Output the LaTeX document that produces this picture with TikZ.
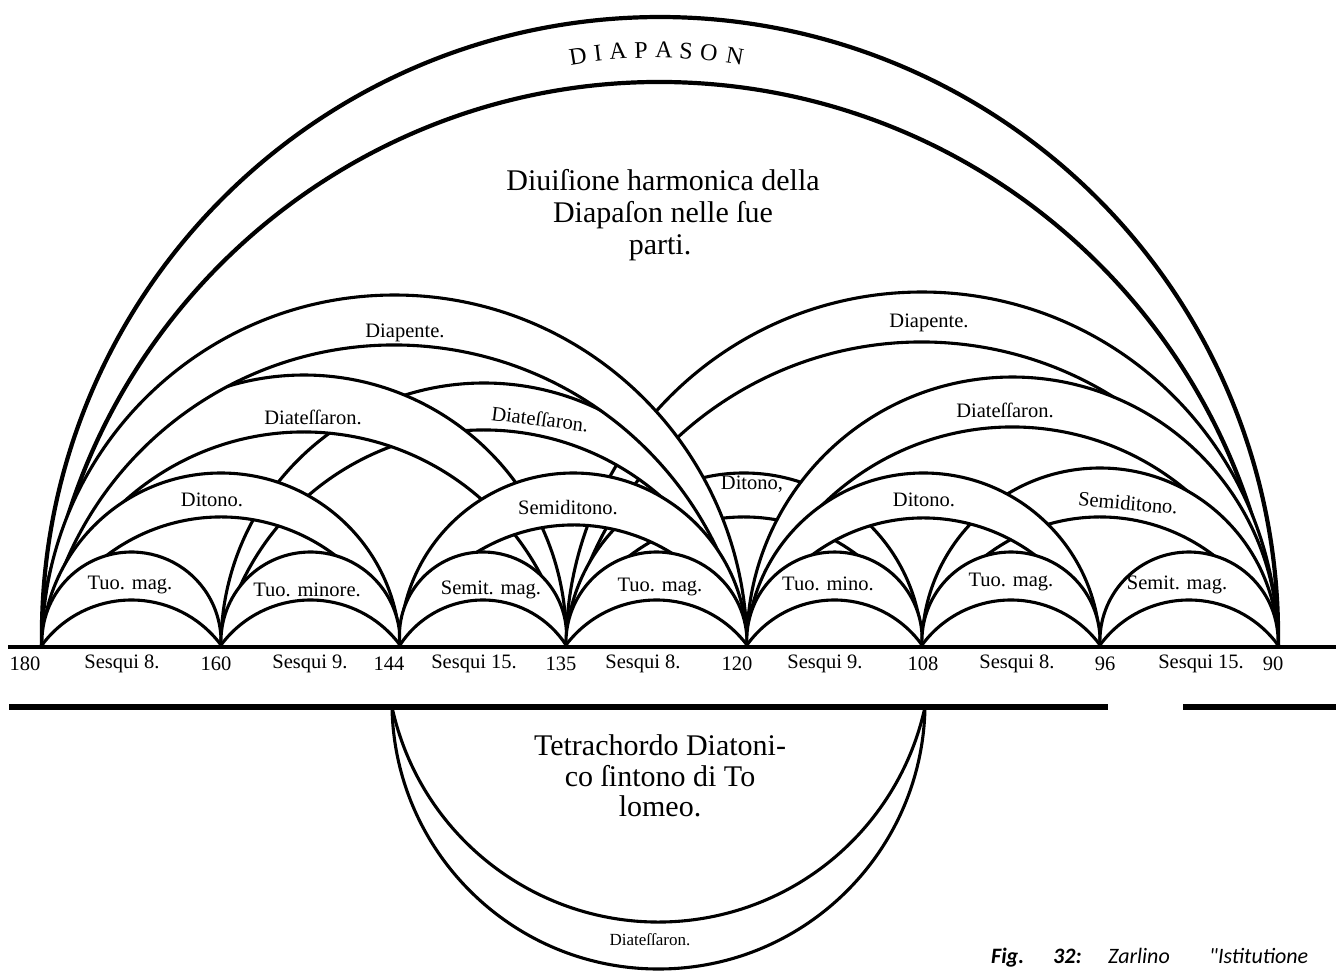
\documentclass[tikz,border=0pt]{standalone}
\usepackage{fontspec}
\setmainfont{Liberation Serif}
\newfontfamily\oldserif{Liberation Serif}
\newfontfamily\capfont{Carlito}
% circular arc from (x1,0) to (x2,0) with height h (all in px)
\newcommand\calcarc[3]{%
  \pgfmathsetmacro\am{(#2-#1)/200}%
  \pgfmathsetmacro\hh{(#3)/100}%
  \pgfmathsetmacro\rr{(\am*\am+\hh*\hh)/(2*\hh)}%
  \pgfmathsetmacro\cy{\hh-\rr}%
  \pgfmathsetmacro\sa{atan2(-\cy,-\am)}%
  \pgfmathsetmacro\sa{\sa<0 ? \sa+360 : \sa}%
  \pgfmathsetmacro\ea{180-\sa}%
  \pgfmathsetmacro\R{\rr*100}%
}
% band between two arcs over the same chord, white inside the band
\newcommand\band[5]{%
  \calcarc{#1}{#2}{#3}\let\Sa\sa\let\Ea\ea\let\Ra\R
  \calcarc{#1}{#2}{#4}\let\Sb\sa\let\Eb\ea\let\Rb\R
  \fill[white] (#1,0) arc[start angle=\Sa,end angle=\Ea,radius=\Ra pt]
      arc[start angle=\Eb,end angle=\Sb,radius=\Rb pt] -- cycle;
  \draw[#5] (#1,0) arc[start angle=\Sa,end angle=\Ea,radius=\Ra pt];
  \draw[#5] (#1,0) arc[start angle=\Sb,end angle=\Eb,radius=\Rb pt];
}
\tikzset{
  arcline/.style={line width=3.1pt},
  heavyarc/.style={line width=4.2pt},
  rule/.style={line width=4.5pt},
  heavyrule/.style={line width=6pt},
  lbl/.style={font=\oldserif\fontsize{20.5}{22}\selectfont, inner sep=0pt},
  numlbl/.style={font=\oldserif\fontsize{20.5}{22}\selectfont, inner sep=0pt},
  bigline/.style={font=\oldserif\fontsize{30}{34}\selectfont, inner sep=0pt},
  caplet/.style={font=\oldserif\fontsize{24}{26}\selectfont, inner sep=0pt},
  captxt/.style={font=\capfont\fontsize{22}{25}\selectfont\itshape, inner sep=0pt, anchor=base west},
}
\begin{document}
\begin{tikzpicture}[x=1pt,y=1pt]
\useasboundingbox (0,-326) rectangle (1336,645);
\fill[white] (0,-326) rectangle (1336,645);

% ---- upper arches (back to front) ----
\band{42}{1278}{628}{563}{heavyarc}   % Diapason
\band{566}{1278}{353}{303}{arcline}   % Diapente D-H
\band{566}{922}{172}{128}{arcline}    % Ditono D-F
\band{221}{747}{262}{215}{arcline}    % Diatessaron B-E
\band{42}{566}{270}{213}{arcline}     % Diatessaron A-D
\band{747}{1278}{268}{218}{arcline}   % Diatessaron E-H
\band{42}{747}{350}{300}{arcline}     % Diapente A-E
\band{42}{400}{172}{128}{arcline}     % Ditono A-C
\band{922}{1278}{177}{128}{arcline}   % Semiditono F-H
\band{400}{747}{172}{120}{arcline}    % Semiditono C-E
\band{747}{1100}{172}{127}{arcline}   % Ditono E-G
% single steps
\band{42}{221}{93}{45}{arcline}
\band{221}{400}{93}{45}{arcline}
\band{400}{566}{93}{45}{arcline}
\band{566}{747}{93}{45}{arcline}
\band{747}{922}{93}{45}{arcline}
\band{922}{1100}{93}{45}{arcline}
\band{1100}{1278}{93}{45}{arcline}

% ---- rules ----
\coordinate (r1a) at (8,-2);   \coordinate (r1b) at (1336,-2);
\draw[rule] (r1a) -- (r1b);
\coordinate (r2a) at (9,-62);  \coordinate (r2b) at (1108,-62);
\coordinate (r2c) at (1183,-62); \coordinate (r2d) at (1336,-62);
\draw[heavyrule] (r2a) -- (r2b);
\draw[heavyrule] (r2c) -- (r2d);

% ---- lower tetrachord arch ----
\begin{scope}[shift={(0,-62)}, yscale=-1]
\band{392}{925}{262}{215}{arcline}
\end{scope}

% ---- texts ----
\node[caplet, rotate=9.3]  (d1) at (578,589) {D};
\node[caplet, rotate=6.8]  (d2) at (598,592) {I};
\node[caplet, rotate=4.4]  (d3) at (618,594) {A};
\node[caplet, rotate=1.5]  (d4) at (641,595) {P};
\node[caplet, rotate=-1.4] (d5) at (664,595) {A};
\node[caplet, rotate=-4.2] (d6) at (686,594) {S};
\node[caplet, rotate=-7.0] (d7) at (709,592) {O};
\node[caplet, rotate=-9.5](d8) at (735,589) {N};

\node[bigline] (t1) at (663,465) {Diuiſione harmonica della};
\node[bigline] (t2) at (663,430) {Diapaſon nelle ſue};
\node[bigline] (t3) at (660,397) {parti.};

\node[lbl] (dp1) at (405,312) {Diapente.};
\node[lbl] (dp2) at (929,322) {Diapente.};
\node[lbl] (dt1) at (313,228) {Diateſſaron.};
\node[lbl, rotate=-7] (dt2) at (540,226) {Diateſſaron.};
\node[lbl] (dt3) at (1005,235) {Diateſſaron.};
\node[lbl] (di1) at (212,145) {Ditono.};
\node[lbl] (sd1) at (568,137) {Semiditono.};
\node[lbl] (di2) at (752,161) {Ditono,};
\node[lbl] (di3) at (924,145) {Ditono.};
\node[lbl, rotate=-5] (sd2) at (1128,142) {Semiditono.};

\node[lbl] (s1) at (130,60) {Tuo. mag.};
\node[lbl] (s2) at (307,55) {Tuo. minore.};
\node[lbl] (s3) at (491,55) {Semit. mag.};
\node[lbl] (s4) at (660,58) {Tuo. mag.};
\node[lbl] (s5) at (828,61) {Tuo. mino.};
\node[lbl] (s6) at (1011,63) {Tuo. mag.};
\node[lbl] (s7) at (1177,60) {Semit. mag.};

\node[numlbl] (n1)  at (25,-19)   {180};
\node[numlbl] (q1)  at (122,-19)  {Sesqui 8.};
\node[numlbl] (n2)  at (216,-19)  {160};
\node[numlbl] (q2)  at (310,-19)  {Sesqui 9.};
\node[numlbl] (n3)  at (389,-19)  {144};
\node[numlbl] (q3)  at (474,-19)  {Sesqui 15.};
\node[numlbl] (n4)  at (561,-19)  {135};
\node[numlbl] (q4)  at (643,-19)  {Sesqui 8.};
\node[numlbl] (n5)  at (737,-19)  {120};
\node[numlbl] (q5)  at (825,-19)  {Sesqui 9.};
\node[numlbl] (n6)  at (923,-19)  {108};
\node[numlbl] (q6)  at (1017,-19) {Sesqui 8.};
\node[numlbl] (n7)  at (1105,-19) {96};
\node[numlbl] (q7)  at (1201,-19) {Sesqui 15.};
\node[numlbl] (n8)  at (1273,-19) {90};

\node[bigline] (u1) at (660,-100) {Tetrachordo Diatoni-};
\node[bigline] (u2) at (660,-131) {co ſintono di To};
\node[bigline] (u3) at (660,-161) {lomeo.};
\node[lbl, font=\oldserif\fontsize{17}{19}\selectfont] (dt4) at (650,-295) {Diateſſaron.};

\node[captxt] (c1) at (991,-318)  {\bfseries Fig.};
\node[captxt] (c2) at (1053,-318) {\bfseries 32:};
\node[captxt] (c3) at (1108,-318) {Zarlino};
\node[captxt] (c4) at (1209,-318) {"Istitutione};
\end{tikzpicture}
\end{document}
